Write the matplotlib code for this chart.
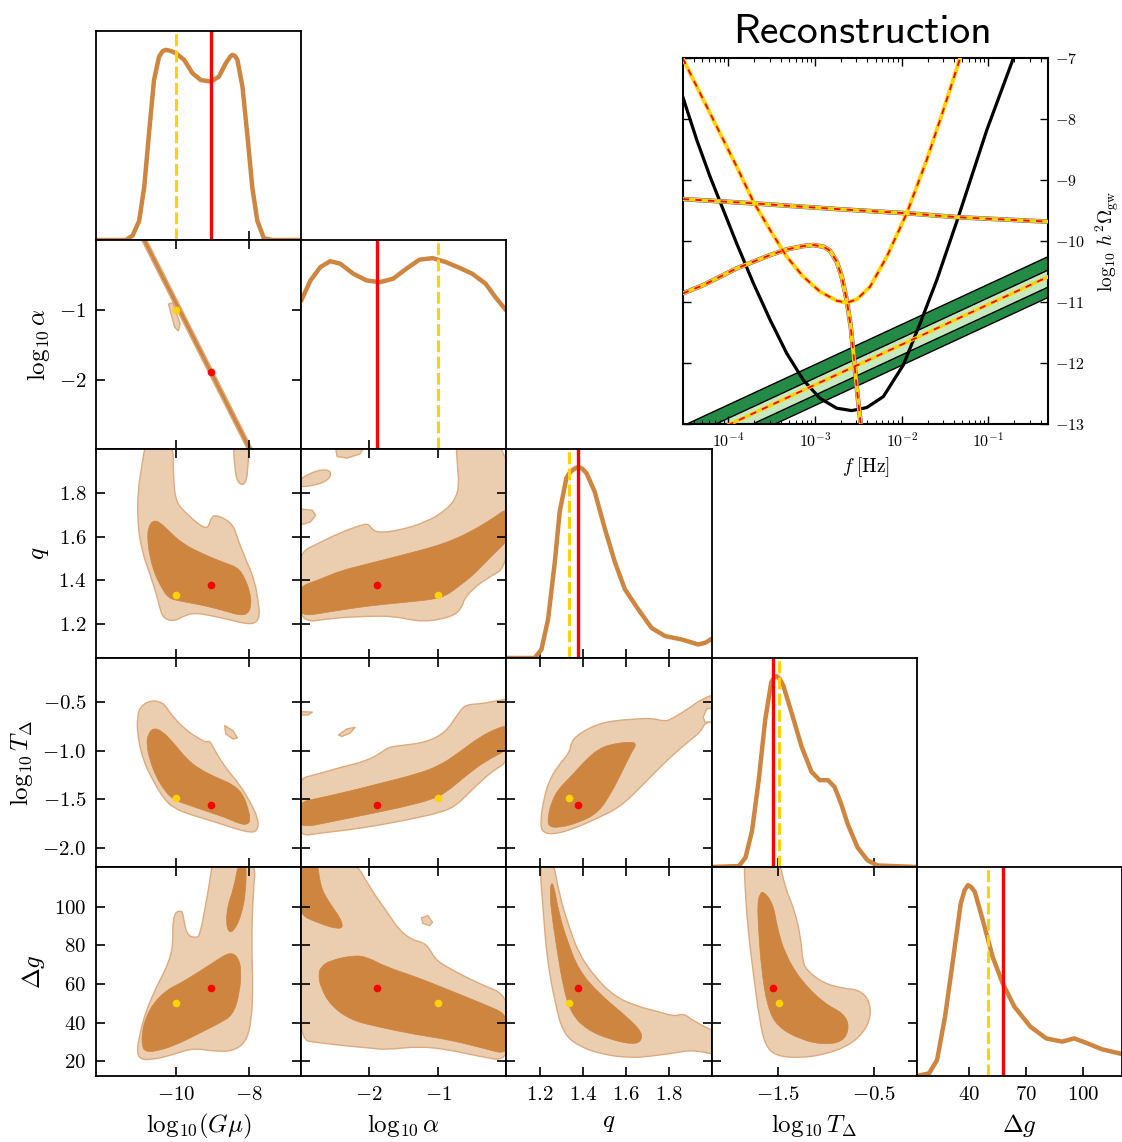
import numpy as np
import matplotlib
matplotlib.use("Agg")
import matplotlib.pyplot as plt
from matplotlib.patches import Polygon, PathPatch
from matplotlib.path import Path

plt.rcParams.update({
    "font.family": "serif",
    "font.serif": ["cmr10", "DejaVu Serif"],
    "mathtext.fontset": "cm",
    "axes.formatter.use_mathtext": True,
    "axes.linewidth": 1.3,
})

# ---------------------------------------------------------------- parameters
param_labels = [r"$\mathrm{log}_{10}(G\mu)$", r"$\log_{10}\alpha$", r"$q$",
                r"$\log_{10}T_\Delta$", r"$\Delta g$"]
param_lims = [(-12.22, -6.56), (-2.98, -0.01), (1.045, 2.0), (-2.19, -0.055), (12.3, 120.6)]
x_ticks = [[-10, -8], [-2, -1], [1.2, 1.4, 1.6, 1.8], [-1.5, -0.5], [40, 70, 100]]
x_tick_labels = [["$-10$", "$-8$"], ["$-2$", "$-1$"], ["$1.2$", "$1.4$", "$1.6$", "$1.8$"],
                 ["$-1.5$", "$-0.5$"], ["$40$", "$70$", "$100$"]]
y_ticks = [[], [-2, -1], [1.2, 1.4, 1.6, 1.8], [-2.0, -1.5, -1.0, -0.5], [20, 40, 60, 80, 100]]
y_tick_labels = [[], ["$-2$", "$-1$"], ["$1.2$", "$1.4$", "$1.6$", "$1.8$"],
                 ["$-2.0$", "$-1.5$", "$-1.0$", "$-0.5$"], ["$20$", "$40$", "$60$", "$80$", "$100$"]]
true_values = [-9.06, -1.89, 1.377, -1.553, 58.0]
estimated_values = [-10.0, -1.0, 1.334, -1.49, 50.0]

# ---------------------------------------------------------------- 1D marginals
gmu_grid = [-12.22, -11.40, -11.21, -11.03, -10.89, -10.75, -10.62, -10.48, -10.38, -10.29,
            -10.15, -10.02, -9.79, -9.56, -9.33, -9.05, -8.83, -8.64, -8.52, -8.46, -8.39,
            -8.32, -8.18, -8.04, -7.91, -7.77, -7.59, -7.36, -6.56]
gmu_pdf = [0, 0, 0.023, 0.10, 0.277, 0.575, 0.838, 0.961, 0.99, 0.996, 0.99, 0.979, 0.944,
           0.874, 0.838, 0.83, 0.856, 0.926, 0.96, 0.97, 0.965, 0.944, 0.803, 0.54, 0.277,
           0.10, 0.01, 0, 0]
alpha_grid = [-2.98, -2.846, -2.703, -2.56, -2.416, -2.225, -2.033, -1.842, -1.651, -1.46,
              -1.268, -1.077, -0.885, -0.694, -0.503, -0.311, -0.168, -0.01]
alpha_pdf = [0.777, 0.883, 0.953, 0.984, 0.971, 0.918, 0.883, 0.874, 0.892, 0.944, 0.992, 1.0,
             0.979, 0.95, 0.918, 0.866, 0.795, 0.725]
q_grid = [1.045, 1.177, 1.208, 1.239, 1.27, 1.293, 1.324, 1.34, 1.355, 1.37, 1.382, 1.40,
          1.418, 1.456, 1.503, 1.55, 1.596, 1.658, 1.72, 1.783, 1.861, 1.938, 1.969, 2.0]
q_pdf = [0, 0, 0.044, 0.203, 0.50, 0.766, 0.942, 0.972, 0.986, 0.997, 1.0, 0.99, 0.968,
         0.871, 0.678, 0.502, 0.361, 0.256, 0.158, 0.115, 0.097, 0.071, 0.079, 0.10]
tdelta_grid = [-2.19, -1.906, -1.837, -1.769, -1.70, -1.632, -1.57, -1.54, -1.512, -1.48,
               -1.443, -1.357, -1.254, -1.151, -1.066, -0.98, -0.911, -0.842, -0.774, -0.671,
               -0.568, -0.465, -0.055]
tdelta_pdf = [0, 0.005, 0.05, 0.19, 0.455, 0.772, 0.966, 0.993, 1.0, 0.985, 0.949, 0.807,
              0.631, 0.499, 0.455, 0.455, 0.42, 0.331, 0.225, 0.102, 0.035, 0.008, 0]
dg_grid = [12.3, 18.8, 23.0, 27.2, 31.4, 35.5, 37.6, 39.3, 41.0, 42.9, 47.1, 52.3, 57.6, 63.8,
           72.3, 80.6, 89.0, 95.3, 101.6, 110.0, 120.6]
dg_pdf = [0, 0.014, 0.084, 0.311, 0.608, 0.905, 0.975, 1.0, 0.99, 0.965, 0.817, 0.625, 0.486,
          0.363, 0.258, 0.197, 0.180, 0.197, 0.174, 0.14, 0.115]

# ---------------------------------------------------------------- 2D credible regions (outer = 2 sigma, inner = 1 sigma)
alpha_gmu_2s = [(-11.02, 0.05), (-10.88, 0.05), (-7.84, -3.05), (-7.98, -3.05)]
alpha_gmu_2s_b = [(-10.22, -0.92), (-10.1, -0.9), (-9.9, -1.2), (-9.95, -1.3), (-10.05, -1.25)]
alpha_gmu_1s = [(-10.99, 0.05), (-10.91, 0.05), (-7.87, -3.05), (-7.95, -3.05)]

q_gmu_2s = [(-10.83, 2.05), (-10.09, 2.05), (-10.09, 1.858), (-10.0, 1.751), (-9.72, 1.705),
            (-9.36, 1.651), (-9.13, 1.635), (-9.04, 1.692), (-8.85, 1.697), (-8.44, 1.658),
            (-8.30, 1.582), (-8.07, 1.489), (-7.84, 1.397), (-7.75, 1.305), (-7.70, 1.243),
            (-7.80, 1.205), (-8.07, 1.20), (-8.53, 1.22), (-9.17, 1.243), (-9.54, 1.251),
            (-9.82, 1.235), (-10.09, 1.212), (-10.37, 1.228), (-10.46, 1.274), (-10.55, 1.335),
            (-10.73, 1.428), (-10.96, 1.535), (-11.08, 1.674), (-11.06, 1.812), (-10.96, 1.92)]
q_gmu_2s_b = [(-8.44, 2.05), (-8.0, 2.05), (-8.03, 1.889), (-8.12, 1.835), (-8.30, 1.843),
              (-8.39, 1.897)]
q_gmu_1s = [(-10.78, 1.643), (-10.64, 1.674), (-10.46, 1.666), (-10.18, 1.62), (-9.82, 1.566),
            (-9.27, 1.52), (-8.71, 1.482), (-8.30, 1.458), (-8.12, 1.412), (-7.98, 1.351),
            (-7.93, 1.289), (-8.03, 1.246), (-8.26, 1.24), (-8.62, 1.258), (-9.17, 1.282),
            (-9.63, 1.297), (-10.0, 1.308), (-10.23, 1.32), (-10.41, 1.366), (-10.6, 1.428),
            (-10.73, 1.505), (-10.8, 1.582)]

tdelta_gmu_2s = [(-11.01, -0.557), (-10.73, -0.488), (-10.41, -0.505), (-10.28, -0.557),
                 (-10.09, -0.66), (-9.72, -0.797), (-9.36, -0.883), (-9.17, -0.917),
                 (-9.08, -0.90), (-8.94, -1.003), (-8.62, -1.191), (-8.26, -1.346),
                 (-7.98, -1.517), (-7.75, -1.689), (-7.75, -1.809), (-7.93, -1.843),
                 (-8.44, -1.792), (-8.99, -1.723), (-9.63, -1.654), (-10.09, -1.586),
                 (-10.37, -1.483), (-10.64, -1.311), (-10.92, -1.106), (-11.08, -0.831),
                 (-11.08, -0.66)]
tdelta_gmu_2s_b = [(-8.67, -0.746), (-8.44, -0.797), (-8.32, -0.872), (-8.44, -0.883),
                   (-8.64, -0.831)]
tdelta_gmu_1s = [(-10.78, -0.831), (-10.64, -0.77), (-10.41, -0.797), (-10.09, -0.917),
                 (-9.72, -1.088), (-9.36, -1.191), (-8.9, -1.277), (-8.44, -1.346),
                 (-8.16, -1.449), (-8.03, -1.586), (-7.96, -1.706), (-8.03, -1.757),
                 (-8.26, -1.75), (-8.62, -1.689), (-9.17, -1.62), (-9.72, -1.551),
                 (-10.09, -1.5), (-10.32, -1.414), (-10.55, -1.277), (-10.73, -1.106),
                 (-10.83, -0.934)]

dg_gmu_2s = [(-11.1, 25.9), (-11.01, 20.8), (-10.64, 20.8), (-10.09, 23.4), (-9.54, 26.8),
             (-8.99, 25.1), (-8.44, 25.1), (-8.07, 30.2), (-7.93, 41.4), (-7.89, 58.5),
             (-7.93, 80.8), (-7.89, 106.5), (-7.80, 125), (-8.99, 125), (-9.08, 113.4),
             (-9.22, 98), (-9.36, 85.1), (-9.45, 83.9), (-9.72, 85.1), (-9.82, 96.2),
             (-9.86, 98), (-10.05, 97.1), (-10.11, 89.4), (-10.09, 82.5), (-10.18, 72.2),
             (-10.55, 58.5), (-10.83, 46.5), (-10.96, 37.9)]
dg_gmu_1s = [(-10.96, 27.7), (-10.83, 24.6), (-10.46, 25.6), (-10.0, 28.5), (-9.36, 34.5),
             (-8.81, 39.7), (-8.44, 43.9), (-8.26, 55.1), (-8.21, 67.1), (-8.3, 74),
             (-8.53, 76.5), (-8.9, 72.2), (-9.45, 65.4), (-9.91, 60.2), (-10.28, 56.8),
             (-10.64, 49.9), (-10.83, 43.1), (-10.94, 36.2)]
dg_gmu_1s_b = [(-8.26, 125), (-8.07, 125), (-8.09, 106.5), (-8.21, 96.2), (-8.35, 89.4),
               (-8.53, 86), (-8.64, 91.1), (-8.58, 101.4), (-8.44, 108.2)]

q_alpha_2s = [(-3.05, 1.52), (-2.70, 1.574), (-2.42, 1.617), (-2.13, 1.651), (-2.01, 1.659),
              (-1.96, 1.635), (-1.87, 1.617), (-1.56, 1.628), (-1.17, 1.666), (-0.886, 1.72),
              (-0.743, 1.774), (-0.695, 1.835), (-0.72, 1.928), (-0.743, 2.05), (0.05, 2.05),
              (0.05, 1.47), (-0.312, 1.405), (-0.503, 1.359), (-0.623, 1.312), (-0.647, 1.282),
              (-0.743, 1.243), (-0.982, 1.22), (-1.22, 1.213), (-1.41, 1.22), (-1.65, 1.236),
              (-2.03, 1.236), (-2.51, 1.228), (-3.05, 1.203)]
q_alpha_2s_b = [(-3.05, 1.851), (-2.85, 1.89), (-2.66, 1.908), (-2.54, 1.897), (-2.58, 1.858),
                (-2.8, 1.832), (-3.05, 1.826)]
q_alpha_2s_c = [(-3.05, 1.728), (-2.82, 1.72), (-2.77, 1.697), (-2.85, 1.666), (-3.05, 1.648)]
q_alpha_2s_d = [(-2.51, 2.05), (-2.46, 1.966), (-2.32, 1.958), (-2.13, 1.977), (-1.99, 2.05)]
q_alpha_1s = [(-3.05, 1.366), (-2.70, 1.405), (-2.42, 1.443), (-2.03, 1.474), (-1.56, 1.512),
              (-1.08, 1.551), (-0.743, 1.589), (-0.455, 1.635), (-0.216, 1.681), (0.05, 1.74),
              (0.05, 1.595), (-0.168, 1.528), (-0.312, 1.482), (-0.503, 1.42), (-0.695, 1.374),
              (-0.886, 1.328), (-1.08, 1.312), (-1.56, 1.297), (-2.03, 1.282), (-2.51, 1.259),
              (-3.05, 1.231)]

tdelta_alpha_2s = [(-3.05, -1.294), (-2.75, -1.243), (-2.42, -1.174), (-2.03, -1.106),
                   (-1.82, -1.02), (-1.72, -0.968), (-1.56, -0.951), (-1.17, -0.917),
                   (-0.886, -0.814), (-0.695, -0.608), (-0.6, -0.532), (-0.36, -0.522),
                   (-0.12, -0.488), (0.05, -0.47), (0.05, -1.10), (-0.216, -1.209),
                   (-0.503, -1.397), (-0.743, -1.569), (-0.982, -1.637), (-1.32, -1.689),
                   (-1.8, -1.757), (-2.27, -1.809), (-2.7, -1.843), (-3.05, -1.88)]
tdelta_alpha_2s_b = [(-3.05, -0.60), (-2.82, -0.608), (-2.88, -0.636), (-3.05, -0.64)]
tdelta_alpha_2s_c = [(-2.44, -0.842), (-2.32, -0.78), (-2.2, -0.763), (-2.27, -0.821),
                     (-2.39, -0.856)]
tdelta_alpha_1s = [(-3.05, -1.534), (-2.70, -1.483), (-2.27, -1.414), (-1.80, -1.329),
                   (-1.32, -1.243), (-0.982, -1.157), (-0.695, -1.02), (-0.407, -0.866),
                   (-0.12, -0.763), (0.05, -0.74), (0.05, -0.98), (-0.312, -1.106),
                   (-0.6, -1.26), (-0.886, -1.431), (-1.08, -1.5), (-1.56, -1.586),
                   (-2.03, -1.654), (-2.51, -1.723), (-3.05, -1.80)]

dg_alpha_2s = [(-3.05, 125), (-2.22, 125), (-1.99, 110), (-1.75, 98), (-1.56, 87.7),
               (-1.36, 82.5), (-1.22, 81.7), (-1.12, 78.2), (-1.03, 72.2), (-0.79, 67.1),
               (-0.41, 60.2), (0.05, 53.5), (0.05, 19.7), (-0.41, 22.5), (-0.84, 25.9),
               (-1.27, 27.7), (-1.75, 25.9), (-1.99, 26.8), (-2.27, 27.7), (-2.70, 29.4),
               (-3.05, 31.3)]
dg_alpha_2s_b = [(-1.24, 94.2), (-1.15, 95.4), (-1.08, 92), (-1.12, 90.2), (-1.22, 91.4)]
dg_alpha_1s = [(-2.70, 68.8), (-2.56, 72.2), (-2.22, 74.8), (-2.03, 74), (-1.75, 68.8),
               (-1.32, 63.7), (-0.84, 56.8), (-0.36, 49.9), (0.05, 43.5), (0.05, 23.0),
               (-0.36, 26.8), (-0.84, 31.1), (-1.32, 33.7), (-1.89, 37.9), (-2.27, 41.4),
               (-2.56, 49.1), (-2.70, 58.5), (-2.73, 64.5)]
dg_alpha_1s_b = [(-3.05, 125), (-2.75, 125), (-2.70, 110), (-2.56, 101.4), (-2.42, 94.5),
                 (-2.37, 89.4), (-2.46, 88.5), (-2.70, 91.1), (-3.05, 96.5)]

tdelta_q_2s = [(1.208, -1.826), (1.254, -1.86), (1.348, -1.809), (1.472, -1.689),
               (1.581, -1.569), (1.705, -1.294), (1.814, -1.054), (1.907, -0.883),
               (1.954, -0.797), (1.969, -0.711), (2.05, -0.70), (2.05, -0.40), (1.954, -0.471),
               (1.892, -0.574), (1.814, -0.677), (1.783, -0.704), (1.721, -0.67),
               (1.658, -0.677), (1.55, -0.694), (1.472, -0.728), (1.394, -0.814),
               (1.348, -0.9), (1.34, -1.02), (1.285, -1.157), (1.239, -1.329),
               (1.216, -1.534), (1.205, -1.706)]
tdelta_q_hole = [(1.961, -0.66), (1.977, -0.574), (2.05, -0.56), (2.05, -0.70), (1.969, -0.711)]
tdelta_q_1s = [(1.239, -1.774), (1.285, -1.791), (1.379, -1.74), (1.472, -1.637),
               (1.534, -1.431), (1.581, -1.226), (1.627, -1.02), (1.651, -0.934),
               (1.627, -0.91), (1.534, -0.934), (1.472, -0.986), (1.41, -1.106),
               (1.348, -1.26), (1.285, -1.397), (1.254, -1.534), (1.239, -1.671)]

dg_q_2s = [(1.198, 125), (1.262, 125), (1.29, 106.5), (1.337, 89.4), (1.382, 75.7),
           (1.456, 63.7), (1.549, 53.4), (1.659, 48.2), (1.752, 45.7), (1.825, 43.1),
           (1.871, 44.8), (1.917, 40.5), (2.05, 33.5), (2.05, 22.5), (1.917, 25.9),
           (1.825, 24.2), (1.715, 22.5), (1.622, 21.7), (1.493, 23.4), (1.382, 27.7),
           (1.309, 34.5), (1.272, 49.9), (1.235, 72.2), (1.216, 98)]
dg_q_1s = [(1.262, 113.4), (1.29, 96.2), (1.328, 82.5), (1.382, 67.1), (1.475, 55.1),
           (1.586, 44.8), (1.669, 36.2), (1.678, 31.1), (1.641, 28.5), (1.53, 31.1),
           (1.42, 36.2), (1.345, 44.8), (1.309, 58.5), (1.281, 77.4), (1.253, 98),
           (1.247, 110)]

dg_tdelta_2s = [(-1.854, 125), (-1.488, 125), (-1.427, 110), (-1.325, 98), (-1.263, 84.2),
                (-1.244, 72.2), (-1.203, 67.1), (-1.02, 60.2), (-0.816, 57.7), (-0.653, 56.8),
                (-0.551, 51.7), (-0.531, 43.1), (-0.612, 34.5), (-0.776, 27.7), (-1.02, 23.4),
                (-1.263, 21.7), (-1.508, 22.5), (-1.631, 27.7), (-1.691, 41.4),
                (-1.752, 63.7), (-1.814, 89.4), (-1.842, 110)]
dg_tdelta_1s = [(-1.691, 106.5), (-1.65, 108.2), (-1.548, 101.4), (-1.508, 89.4),
                (-1.427, 75.7), (-1.263, 61.9), (-1.02, 49.9), (-0.816, 44.8), (-0.755, 37.9),
                (-0.816, 30.2), (-1.02, 28.5), (-1.263, 31.1), (-1.508, 37.9), (-1.61, 48.2),
                (-1.671, 67.1), (-1.704, 89.4), (-1.712, 101.4)]

# ---------------------------------------------------------------- reconstruction inset (log10 f, log10 h^2 Omega)
sens_logf = [-4.527, -4.365, -4.212, -4.058, -3.904, -3.712, -3.519, -3.327, -3.135, -2.942,
             -2.75, -2.577, -2.404, -2.212, -1.981, -1.788, -1.596, -1.346, -1.019, -0.712]
sens_logomega = [-7.63, -8.34, -8.94, -9.49, -10.04, -10.69, -11.29, -11.84, -12.28, -12.58,
                 -12.74, -12.78, -12.73, -12.55, -12.03, -11.35, -10.64, -9.60, -8.18, -7.0]
vshape_logf = [-4.527, -4.288, -4.096, -3.904, -3.712, -3.519, -3.327, -3.135, -2.942, -2.75,
               -2.635, -2.519, -2.365, -2.173, -1.942, -1.712, -1.519, -1.327]
vshape_logomega = [-7.0, -7.684, -8.231, -8.778, -9.353, -9.817, -10.255, -10.583, -10.829,
                   -10.977, -11.01, -10.955, -10.747, -10.255, -9.544, -8.668, -7.848, -7.0]
flat_logf = [-4.527, -3.712, -2.75, -1.923, -1.327, -0.308]
flat_logomega = [-9.309, -9.38, -9.473, -9.544, -9.609, -9.68]
peak_logf = [-4.527, -4.288, -4.096, -3.904, -3.712, -3.519, -3.327, -3.135, -3.019, -2.904,
             -2.827, -2.75, -2.692, -2.635, -2.588, -2.55, -2.512, -2.473, -2.442]
peak_logomega = [-10.857, -10.72, -10.583, -10.446, -10.337, -10.228, -10.135, -10.08,
                 -10.063, -10.09, -10.156, -10.337, -10.583, -10.966, -11.404, -11.95, -12.498,
                 -13.0, -13.43]
band_logf = [-4.54, -0.29]
band_center = [-13.37, -10.57]
band_1s_upper = [-13.26, -10.46]
band_1s_lower = [-13.54, -10.74]
band_2s_upper = [-13.04, -10.24]
band_2s_lower = [-13.71, -10.91]

# ---------------------------------------------------------------- styles
PERU = "#CD853F"
LIGHT = "#EBCDB0"
EDGE = "#DDAA7E"
GOLD = "#FFD200"
RED = "#FF0000"

fig = plt.figure(figsize=(11.22, 11.42), dpi=100)

X0, W, TOP, H = 0.08556, 0.18289, 0.97285, 0.18301


def make_ax(row, col):
    return fig.add_axes([X0 + col * W, TOP - (row + 1) * H, W, H])


def region_patch(pts, **kw):
    """Closed outline; drawn with smooth quadratic segments when it has many vertices."""
    P = np.asarray(pts, dtype=float)
    if len(P) <= 5:
        return Polygon(P, closed=True, joinstyle="round", **kw)
    mids = (P + np.roll(P, -1, axis=0)) / 2.0
    verts = [mids[-1]]
    codes = [Path.MOVETO]
    for i in range(len(P)):
        verts += [P[i], mids[i]]
        codes += [Path.CURVE3, Path.CURVE3]
    verts.append(mids[-1])
    codes.append(Path.CLOSEPOLY)
    return PathPatch(Path(verts, codes), joinstyle="round", **kw)


diag_grids = [gmu_grid, alpha_grid, q_grid, tdelta_grid, dg_grid]
diag_pdfs = [gmu_pdf, alpha_pdf, q_pdf, tdelta_pdf, dg_pdf]

regions = {
    (1, 0): ([alpha_gmu_2s, alpha_gmu_2s_b], [alpha_gmu_1s], []),
    (2, 0): ([q_gmu_2s, q_gmu_2s_b], [q_gmu_1s], []),
    (3, 0): ([tdelta_gmu_2s, tdelta_gmu_2s_b], [tdelta_gmu_1s], []),
    (4, 0): ([dg_gmu_2s], [dg_gmu_1s, dg_gmu_1s_b], []),
    (2, 1): ([q_alpha_2s, q_alpha_2s_b, q_alpha_2s_c, q_alpha_2s_d], [q_alpha_1s], []),
    (3, 1): ([tdelta_alpha_2s, tdelta_alpha_2s_b, tdelta_alpha_2s_c], [tdelta_alpha_1s], []),
    (4, 1): ([dg_alpha_2s, dg_alpha_2s_b], [dg_alpha_1s, dg_alpha_1s_b], []),
    (3, 2): ([tdelta_q_2s], [tdelta_q_1s], [tdelta_q_hole]),
    (4, 2): ([dg_q_2s], [dg_q_1s], []),
    (4, 3): ([dg_tdelta_2s], [dg_tdelta_1s], []),
}

TICK_KW = dict(direction="in", length=6.5, width=1.2, labelsize=15, pad=7)

for row in range(5):
    for col in range(row + 1):
        ax = make_ax(row, col)
        ax.set_xlim(*param_lims[col])
        if row == col:
            ax.plot(diag_grids[col], diag_pdfs[col], color=PERU, lw=3.2,
                    solid_joinstyle="round", solid_capstyle="round")
            ax.axvline(true_values[col], color=RED, lw=2.4)
            ax.axvline(estimated_values[col], color=GOLD, lw=2.2, ls=(0, (3.9, 1.4)))
            ax.set_ylim(0, 1.095)
            ax.set_yticks([])
            ax.set_xticks(x_ticks[col])
            ax.tick_params(axis="x", top=False, **TICK_KW)
            if row == 4:
                ax.set_xticklabels(x_tick_labels[col])
                ax.set_xlabel(param_labels[col], fontsize=18, labelpad=6)
            else:
                ax.set_xticklabels([])
        else:
            ax.set_ylim(*param_lims[row])
            outer, inner, holes = regions[(row, col)]
            for pts in outer:
                ax.add_patch(region_patch(pts, facecolor=LIGHT, edgecolor=EDGE, lw=1.0))
            for pts in holes:
                ax.add_patch(region_patch(pts, facecolor="white", edgecolor=EDGE, lw=1.0))
            for pts in inner:
                ax.add_patch(region_patch(pts, facecolor=PERU, edgecolor=PERU, lw=0.5))
            ax.plot([true_values[col]], [true_values[row]], "o", color=RED, ms=5.5, mew=0)
            ax.plot([estimated_values[col]], [estimated_values[row]], "o", color=GOLD, ms=5.5, mew=0)
            ax.set_xticks(x_ticks[col])
            ax.set_yticks(y_ticks[row])
            ax.tick_params(top=True, right=True, **TICK_KW)
            if row == 4:
                ax.set_xticklabels(x_tick_labels[col])
                ax.set_xlabel(param_labels[col], fontsize=18, labelpad=6)
            else:
                ax.set_xticklabels([])
            if col == 0:
                ax.set_yticklabels(y_tick_labels[row])
                ax.set_ylabel(param_labels[row], fontsize=18, labelpad=5)
            else:
                ax.set_yticklabels([])

# ---------------------------------------------------------------- inset
axi = fig.add_axes([0.6085, 0.6287, 0.32585, 0.32023])
axi.set_xscale("log")
fb = 10 ** np.array(band_logf)
axi.fill_between(fb, band_2s_lower, band_2s_upper, facecolor="#238B45", edgecolor="none", zorder=1)
axi.fill_between(fb, band_1s_lower, band_1s_upper, facecolor="#C7E9C0", edgecolor="none", zorder=1.1)
for edge in (band_2s_lower, band_2s_upper, band_1s_lower, band_1s_upper):
    axi.plot(fb, edge, color="black", lw=1.0, zorder=1.2)
axi.plot(fb, band_center, color=GOLD, lw=2.6, zorder=3)
axi.plot(fb, band_center, color=RED, lw=1.3, ls=(0, (3.5, 3.5)), zorder=3.1)

axi.plot(10 ** np.array(sens_logf), sens_logomega, color="black", lw=2.3, zorder=2,
         solid_joinstyle="round")

for lf, lo, under in ((flat_logf, flat_logomega, "#2F52C0"),
                      (peak_logf, peak_logomega, "#6A3FA8"),
                      (vshape_logf, vshape_logomega, None)):
    fx = 10 ** np.array(lf)
    if under is not None:
        axi.plot(fx, lo, color=under, lw=3.3, zorder=2.5)
    axi.plot(fx, lo, color=GOLD, lw=2.8, zorder=3, solid_joinstyle="round")
    axi.plot(fx, lo, color=RED, lw=1.3, ls=(0, (3.5, 3.5)), zorder=3.1)

axi.set_xlim(10 ** -4.527, 10 ** -0.308)
axi.set_ylim(-13, -7)
axi.set_yticks([-13, -12, -11, -10, -9, -8, -7])
axi.tick_params(which="both", direction="in", top=True, bottom=True, left=True, right=True,
                labelleft=False, labelright=True, labelsize=11.5, pad=5)
axi.tick_params(which="major", length=6, width=1.0)
axi.tick_params(which="minor", length=3, width=0.8)
for sp in axi.spines.values():
    sp.set_linewidth(1.5)
axi.yaxis.set_label_position("right")
axi.set_ylabel(r"$\log_{10}\,h^2\Omega_{\rm gw}$", fontsize=14, labelpad=6)
axi.set_xlabel(r"$f\;[\mathrm{Hz}]$", fontsize=14, labelpad=4)

fig.text(0.7687, 0.962, "Reconstruction", fontfamily="cmss10", fontsize=30,
         ha="center", va="baseline")

fig.savefig("out.png", dpi=100)
